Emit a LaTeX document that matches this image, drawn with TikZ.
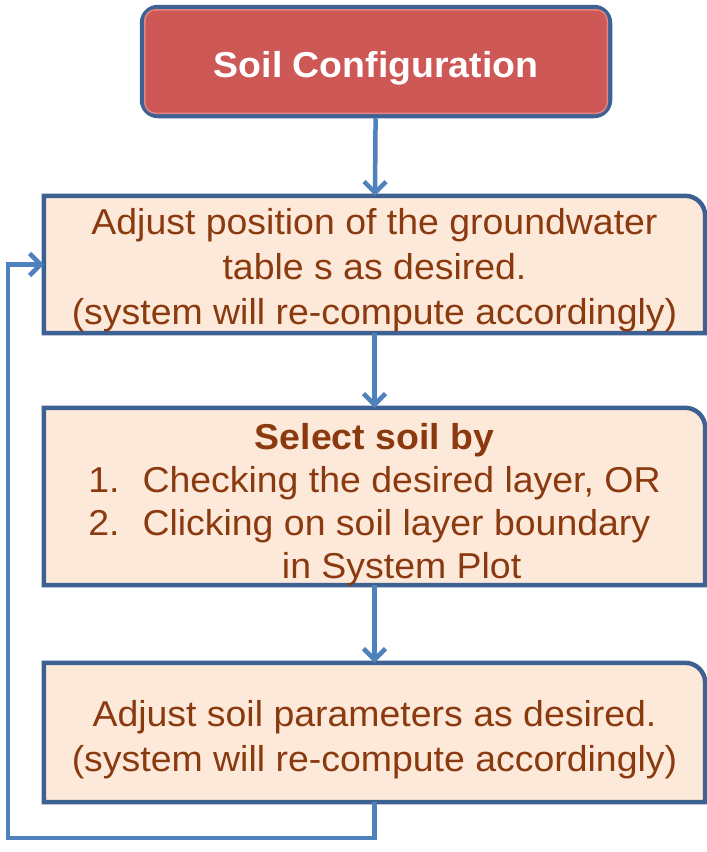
\documentclass[tikz,border=0pt]{standalone}
\usepackage{fontspec}
\setmainfont{Liberation Sans}[FakeStretch=1.04]
\usetikzlibrary{arrows.meta,backgrounds}
\definecolor{boxfill}{HTML}{FDE9DA}
\definecolor{boxedge}{HTML}{3D6192}
\definecolor{flowblue}{HTML}{4F81BD}
\definecolor{soiltext}{HTML}{8B3A0F}
\definecolor{titlered}{HTML}{CD5856}
\definecolor{titlerim}{HTML}{E4837F}
\tikzstyle{stepbox} = [inner sep=0pt, minimum width=661pt]
\tikzstyle{steptext} = [inner sep=0pt, text=soiltext, align=center, font=\fontsize{36}{45}\selectfont]
\tikzstyle{boxline} = [draw=boxedge, line width=4.5pt, fill=boxfill]
\tikzstyle{line} = [draw=flowblue, line width=4.5pt, -{Straight Barb[length=11pt,width=22pt]}]
\newcommand{\cornerbox}[1]{\path [boxline] (#1.south west) -- (#1.north west) -- ([xshift=-20pt]#1.north east) arc[start angle=90, end angle=0, radius=20pt] -- (#1.south east) -- cycle;}

\begin{document}
\begin{tikzpicture}[x=1pt, y=-1pt]
\useasboundingbox (0,0) rectangle (707,852);
\node [draw=boxedge, line width=4.5pt, fill=titlered, rounded corners=16pt, minimum width=468pt, minimum height=109pt] (soil) at (376,61.5) {};
\draw [titlerim, line width=1.5pt, rounded corners=11pt] ([xshift=5pt,yshift=-5pt]soil.north west) rectangle ([xshift=-5pt,yshift=5pt]soil.south east);
\node [text=white, font=\bfseries\fontsize{36}{45}\selectfont] (soiltitle) at ([yshift=-7pt]soil) {Soil Configuration};
% the three steps
\node [stepbox, minimum height=137pt] (adjust) at (374.5,264.5) {};
\node [steptext] (adjusttext) at ([yshift=-6pt]adjust) {Adjust position of the groundwater\\ table s as desired.\\ (system will re-compute accordingly)};
\node [stepbox, minimum height=177pt] (select) at (374.5,496.5) {};
\node [steptext, font=\fontsize{36}{43}\selectfont] (selecttext) at ([yshift=-9pt]select) {%
\begin{tabular}{@{}l@{\hspace{23pt}}l@{}}
\multicolumn{2}{c}{\bfseries Select soil by}\\
1. & Checking the desired layer, OR\\
2. & Clicking on soil layer boundary\\
 & \multicolumn{1}{c}{in System Plot}
\end{tabular}};
\node [stepbox, minimum height=139pt] (params) at (374.5,732.5) {};
\node [steptext] (paramstext) at ([yshift=-7pt]params) {Adjust soil parameters as desired.\\ (system will re-compute accordingly)};
\begin{scope}[on background layer]
\cornerbox{adjust}
\cornerbox{select}
\cornerbox{params}
\end{scope}
\coordinate (loopturn) at (8,838);
\path [line] (soil) -- (adjust);
\path [line] (adjust) -- (select);
\path [line] (select) -- (params);
\path [line] (params.south) |- (loopturn) |- (adjust.west);
\end{tikzpicture}
\end{document}
